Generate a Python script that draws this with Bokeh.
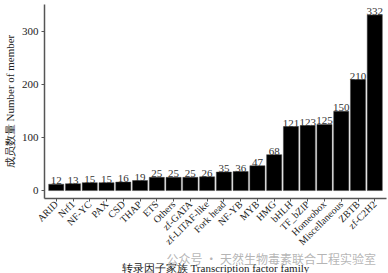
import math
from bokeh.plotting import figure
from bokeh.models import Range1d, ColumnDataSource, Title
from bokeh.core.properties import value
from bokeh.embed import file_html
from bokeh.resources import INLINE

families = ["ARID", "Nrf1", "NF-YC", "PAX", "CSD", "THAP", "ETS", "Others", "zf-GATA",
            "zf-LITAF-like", "Fork head", "NF-YB", "MYB", "HMG", "bHLH", "TF_bZIP",
            "Homeobox", "Miscellaneous", "ZBTB", "zf-C2H2"]
members = [12, 13, 15, 15, 16, 19, 25, 25, 25, 26, 35, 36, 47, 68, 121, 123, 125, 150, 210, 332]
y_ticks = [0, 100, 200, 300]
x_title = "转录因子家族 Transcription factor family"
y_title = "成员数量 Number of member"
watermark = "公众号 · 天然生物毒素联合工程实验室"

SERIF = "Liberation Serif"

src = ColumnDataSource(dict(fam=families, n=members, lab=[str(v) for v in members]))

p = figure(x_range=families, y_range=Range1d(-15, 352), width=388, height=273,
           output_backend="svg", toolbar_location=None,
           min_border_left=10, min_border_right=2, min_border_top=4, min_border_bottom=1)
p.x_range.range_padding = 0.02

p.vbar(x="fam", top="n", bottom=0, width=0.9, source=src,
       fill_color="black", line_color="#444444", line_width=0.5)
p.text(x="fam", y="n", text="lab", source=src, text_align="center",
       text_baseline="bottom", y_offset=0, text_font=value(SERIF),
       text_font_size="11px", text_color="#333333")

p.grid.visible = False
p.outline_line_color = None
p.background_fill_color = "white"

p.yaxis.ticker = y_ticks
p.yaxis.minor_tick_line_color = None
p.xaxis.minor_tick_line_color = None
for ax in (p.xaxis, p.yaxis):
    ax.axis_line_color = "#555555"
    ax.axis_line_width = 1.5
    ax.major_tick_line_color = "#555555"
    ax.major_tick_out = 3
    ax.major_tick_in = 0
    ax.major_label_text_font = SERIF
    ax.major_label_text_color = "#222222"
    ax.axis_label_text_font = SERIF
    ax.axis_label_text_font_style = "normal"
    ax.axis_label_text_color = "#222222"

p.yaxis.major_label_text_font_size = "11px"
p.xaxis.major_label_text_font_size = "10px"
p.xaxis.major_label_orientation = math.pi / 4
p.xaxis.major_label_standoff = 1
p.yaxis.major_label_standoff = 3
p.yaxis.axis_label = y_title
p.yaxis.axis_label_text_font_size = "11px"
p.yaxis.axis_label_standoff = 3

wm = Title(text=watermark, align="left", offset=122, text_font="Noto Sans CJK SC",
           text_font_size="12px", text_color="#a8a8a8", text_alpha=0.85,
           text_font_style="normal", standoff=-14)
xt = Title(text=x_title, align="center", text_font=SERIF, text_font_size="11px",
           text_color="#222222", text_font_style="normal", standoff=0)
p.add_layout(wm, "below")
p.add_layout(xt, "below")

open("out.html", "w").write(file_html(p, INLINE))
